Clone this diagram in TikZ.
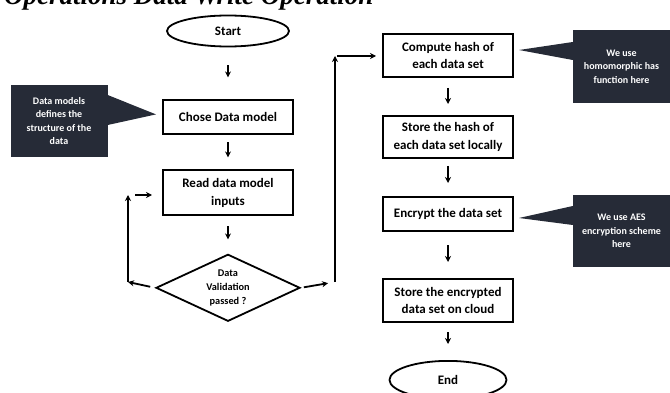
\documentclass[tikz,border=0pt]{standalone}
\usepackage{fontspec}
\setmainfont{Carlito}
\newfontfamily\titlefont{Liberation Serif}
\usepackage{tikz}
\usetikzlibrary{arrows.meta, positioning, shapes.geometric, calc}
\definecolor{notedark}{RGB}{38,43,55}

\begin{document}
\begin{tikzpicture}[x=1pt, y=-1pt,
    stepbox/.style={rectangle, draw=black, line width=2pt, minimum width=130pt,
                    inner sep=0pt, align=center, font=\fontsize{13}{17.5}\selectfont\bfseries},
    term/.style={ellipse, draw=black, line width=1.8pt, inner sep=0pt,
                 font=\fontsize{13}{16}\selectfont\bfseries},
    decision/.style={diamond, draw=black, line width=1.8pt, aspect=2.2, inner sep=0pt,
                     minimum width=144pt, minimum height=67pt, align=center,
                     font=\fontsize{10.3}{14}\selectfont\bfseries},
    note/.style={rectangle, fill=notedark, text=white, minimum width=97pt, align=center,
                 font=\fontsize{10}{13.5}\selectfont\bfseries},
    flow/.style={-{Stealth[length=6pt,width=6pt]}, line width=1.8pt, shorten <=9pt, shorten >=13pt}
]
\useasboundingbox (0,0) rectangle (670,393);
\clip (0,0) rectangle (670,393);

% title, cut at the top
\node[anchor=base west, inner sep=0pt, font=\titlefont\fontsize{27}{27}\selectfont\bfseries\itshape]
    (title) at (4,5) {Operations Data Write Operation};

% left column
\node[term, minimum width=122pt, minimum height=31pt] (start) at (228,31) {Start};
\node[stepbox, minimum height=34pt, below=52pt of start] (model) {Chose Data model};
\node[stepbox, minimum height=45pt, below=34pt of model] (read) {Read data model\\inputs};
\node[decision, below=37pt of read] (val) {Data\\Validation\\passed ?};

% right column
\node[stepbox, minimum height=43pt] (hash) at (448,55.5) {Compute hash of\\each data set};
\node[stepbox, minimum height=42pt, below=37pt of hash] (store) {Store the hash of\\each data set locally};
\node[stepbox, minimum height=34pt, below=37pt of store] (enc) {Encrypt the data set};
\node[stepbox, minimum height=43pt, below=46pt of enc] (cloud) {Store the encrypted\\data set on cloud};
\node[term, minimum width=117pt, minimum height=38pt, below=37pt of cloud] (end) {End};

% callouts
\node[note, minimum height=72pt] (dmnote) at (59,121) {Data models\\defines the\\structure of the\\data};
\fill[notedark] ([yshift=26pt]dmnote.east) -- ([xshift=-6pt,yshift=3pt]model.west) -- ([yshift=-4pt]dmnote.east) -- cycle;
\node[note, minimum height=73pt] (hashnote) at (621.5,66.5) {We use\\homomorphic has\\function here};
\fill[notedark] ([yshift=24.5pt]hashnote.west) -- ([xshift=5pt,yshift=5.5pt]hash.east) -- ([yshift=6.5pt]hashnote.west) -- cycle;
\node[note, minimum height=72pt] (aesnote) at (621.5,231) {We use AES\\encryption scheme\\here};
\fill[notedark] ([yshift=25pt]aesnote.west) -- ([xshift=5pt,yshift=-4pt]enc.east) -- ([yshift=6pt]aesnote.west) -- cycle;

% main flow
\draw[flow, shorten <=18pt, shorten >=22pt] (start) -- (model);
\draw[flow, shorten <=7pt, shorten >=12pt] (model) -- (read);
\draw[flow, shorten <=10pt, shorten >=14pt] (read) -- (val);
\draw[flow, shorten <=10pt, shorten >=11pt] (hash) -- (store);
\draw[flow, shorten <=7pt, shorten >=13pt] (store) -- (enc);
\draw[flow, shorten <=13pt, shorten >=16pt] (enc) -- (cloud);
\draw[flow, shorten <=9pt, shorten >=16pt] (cloud) -- (end);

% loop back when validation fails
\coordinate (lb) at (128,282);
\coordinate (lt) at (128,195);
\draw[flow, shorten <=5pt, shorten >=0pt] (val.west) -- (lb);
\draw[flow, shorten <=0pt, shorten >=0pt] (lb) -- (lt);
\draw[flow, shorten <=7pt, shorten >=10pt] (lt) -- (lt -| read.west);

% on to hashing when it passes
\coordinate (rb) at (335,282);
\coordinate (rt) at (335,56);
\draw[flow, shorten <=3pt, shorten >=7pt] (val.east) -- (rb);
\draw[flow, shorten <=0pt, shorten >=0pt] (rb) -- (rt);
\draw[flow, shorten <=2pt, shorten >=6pt] (rt) -- (rt -| hash.west);
\end{tikzpicture}
\end{document}
